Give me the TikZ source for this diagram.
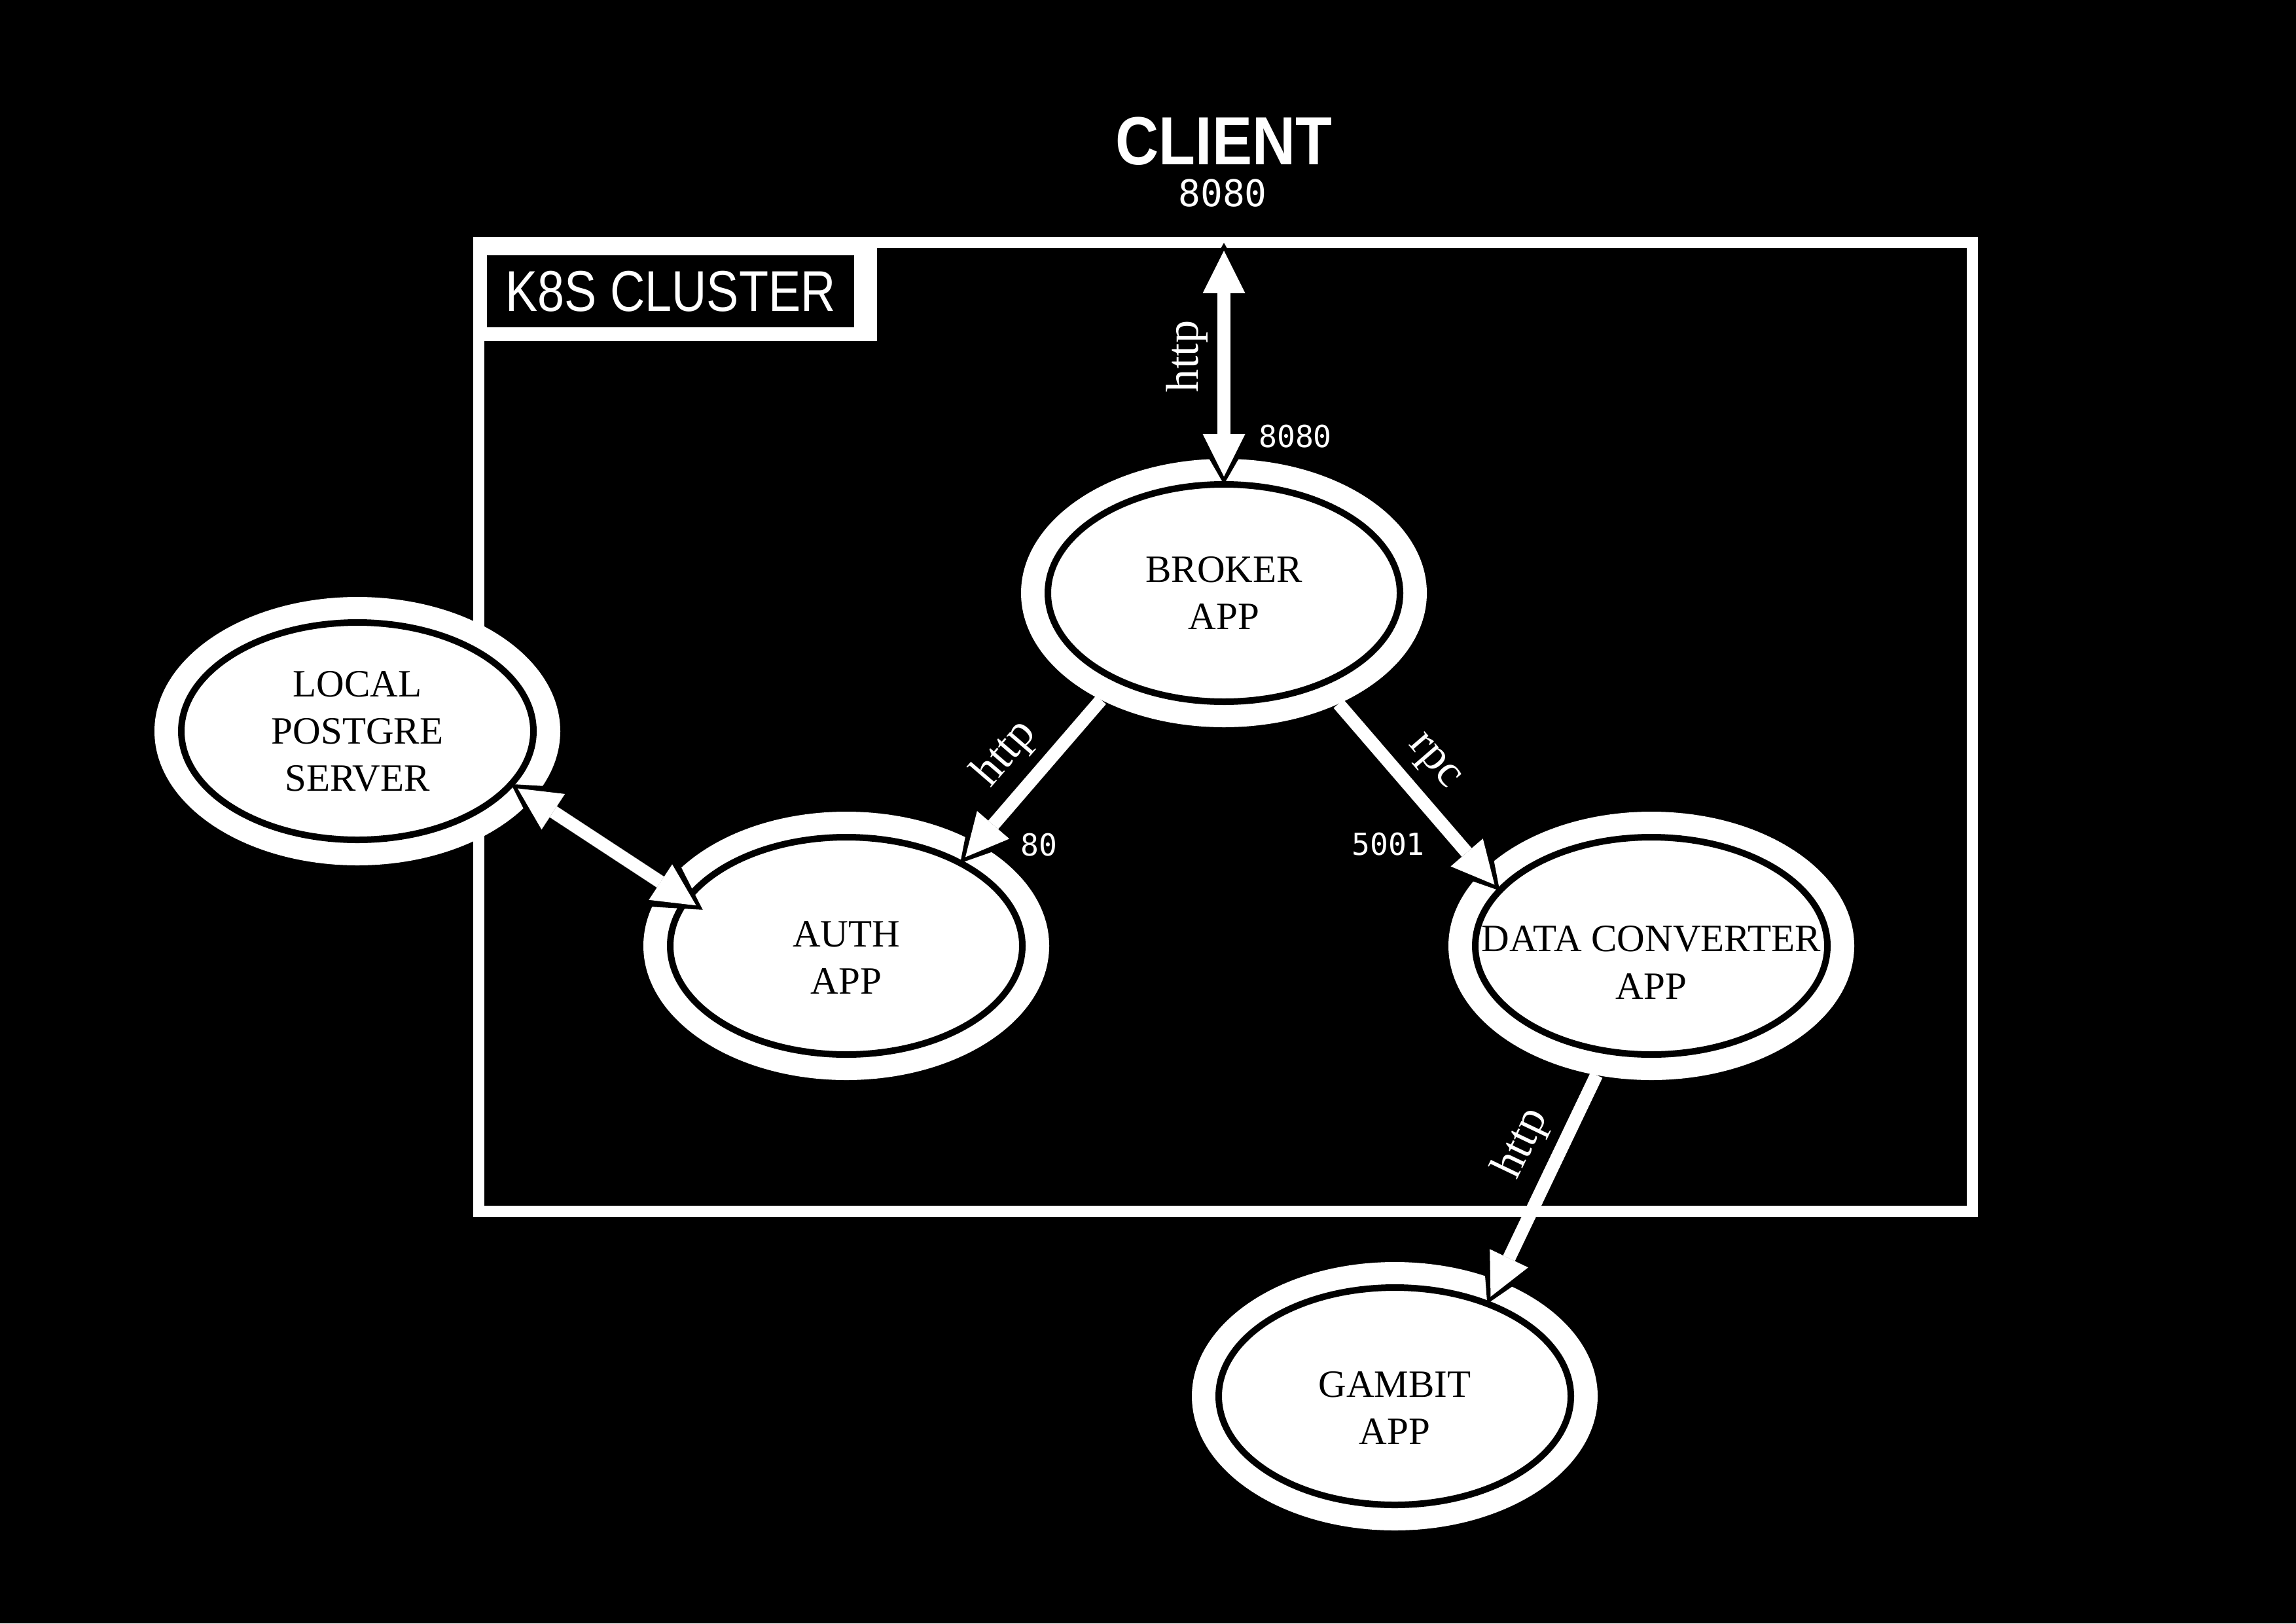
\documentclass[tikz,border=0pt]{standalone}
\usepackage{fontspec}
\setmainfont{Liberation Serif}
\setmonofont{DejaVu Sans Mono}
\newfontfamily\clientfont[FakeStretch=0.88]{Liberation Sans}
\newfontfamily\tagfont[FakeStretch=0.84]{Liberation Sans}
\usetikzlibrary{shapes.geometric,arrows.meta}

\tikzset{
  ring/.style={ellipse,fill=white,inner sep=0pt,outer sep=0pt,minimum width=6.2cm,minimum height=4.1cm},
  app/.style={ellipse,draw=black,line width=0.1cm,fill=white,inner xsep=-0.8cm,inner ysep=0pt,outer sep=0pt,
    minimum width=5.38cm,minimum height=3.32cm,align=center,font=\fontsize{16.8}{20.5}\selectfont},
  port/.style={text=white,font=\ttfamily\fontsize{13.2}{15}\selectfont},
  lbl/.style={text=white,sloped,above,inner sep=0.15cm,font=\fontsize{20}{23}\selectfont},
  flow/.style={draw=white,line width=0.2cm,shorten >=0.12cm,
    -{Triangle[length=0.65cm,width=0.65cm,line width=0pt]},
    preaction={draw=black,line width=0.02cm,shorten >=0cm,
      -{Triangle[length=0.87cm,width=1cm,line width=0pt]}}},
  duplex/.style={draw=white,line width=0.2cm,shorten >=0.12cm,shorten <=0.12cm,
    {Triangle[length=0.65cm,width=0.65cm,line width=0pt]}-{Triangle[length=0.65cm,width=0.65cm,line width=0pt]},
    preaction={draw=black,line width=0.02cm,shorten >=0cm,shorten <=0cm,
      {Triangle[length=0.87cm,width=1cm,line width=0pt]}-{Triangle[length=0.87cm,width=1cm,line width=0pt]}}}
}

\begin{document}
\begin{tikzpicture}
\useasboundingbox (0,0) rectangle (35.08,-24.80);
\fill[black] (0,0) rectangle (35.08,-24.80);

\node[draw=white,line width=0.17cm,inner sep=0pt,outer sep=0pt,minimum width=22.82cm,minimum height=14.79cm] (cluster) at (18.72,-11.105) {};
\fill[white] (cluster.north west) rectangle (13.40,-5.21);
\node[fill=black,inner sep=0pt,minimum width=5.61cm,minimum height=1.10cm,text=white,font=\tagfont\fontsize{25}{30}\selectfont] (tag) at (10.245,-4.45) {K8S CLUSTER};

\node[text=white,font=\clientfont\bfseries\fontsize{29.6}{34}\selectfont] (client) at (18.70,-2.16) {CLIENT};
\node[port,font=\ttfamily\fontsize{16}{18}\selectfont] (client-port) at (18.68,-2.95) {8080};

\node[ring] (broker-o) at (18.70,-9.06) {};
\node[app] (broker) at (broker-o) {BROKER\\APP};
\node[ring] (pg-o) at (5.46,-11.17) {};
\node[app] (pg) at (pg-o) {LOCAL\\POSTGRE\\SERVER};
\node[ring] (auth-o) at (12.93,-14.45) {};
\node[app] (auth) at (auth-o) {\rule{0pt}{0.75cm}AUTH\\APP};
\node[ring] (dc-o) at (25.23,-14.45) {};
\node[app] (dc) at (dc-o) {\rule{0pt}{0.9cm}DATA CONVERTER\\APP};
\node[ring] (gambit-o) at (21.31,-21.33) {};
\node[app] (gambit) at (gambit-o) {\rule{0pt}{0.75cm}GAMBIT\\APP};

\node[port] (broker-port) at (19.79,-6.67) {8080};
\node[port] (auth-port) at (15.87,-12.91) {80};
\node[port] (dc-port) at (21.21,-12.90) {5001};

\draw[duplex] (broker) -- node[lbl,pos=0.53] {http} (broker |- cluster.north);
\draw[flow] (broker-o.221) -- node[lbl,pos=0.48] {http} (auth.36);
\draw[flow] (broker-o.-44) -- node[lbl,pos=0.43] {rpc} (dc.160);
\draw[flow] (dc-o.247) -- node[lbl,pos=0.37] {http} (gambit.45);
\draw[duplex] (pg.-19) -- ([xshift=0.3cm,yshift=-0.07cm]auth.166);
\end{tikzpicture}
\end{document}
